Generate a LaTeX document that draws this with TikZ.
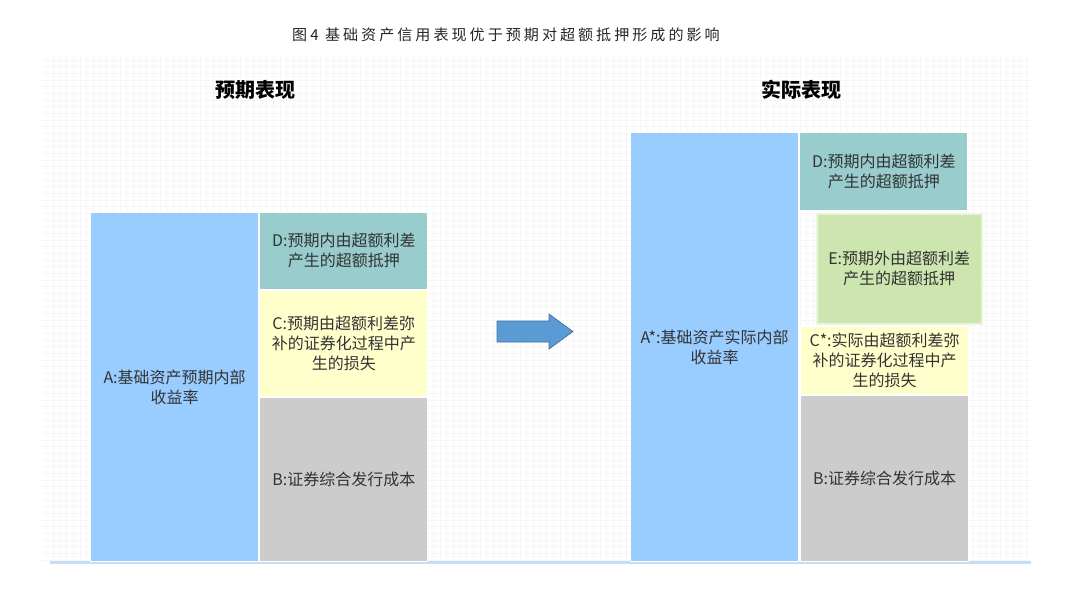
\documentclass[tikz,border=0pt]{standalone}
\usepackage{fontspec}
\setmainfont{Noto Sans CJK SC}
\usepackage{xcolor}
\usetikzlibrary{positioning}
\definecolor{boxblue}{RGB}{153,204,255}
\definecolor{boxteal}{RGB}{153,204,204}
\definecolor{boxyellow}{RGB}{255,255,204}
\definecolor{boxgray}{RGB}{204,204,204}
\definecolor{boxgreen}{RGB}{205,230,176}
\definecolor{greenedge}{RGB}{232,245,218}
\definecolor{arrowblue}{RGB}{91,155,213}
\definecolor{arrowedge}{RGB}{65,113,156}
\definecolor{floorblue}{RGB}{197,221,245}
\tikzset{
  panelbox/.style={draw=white, line width=0.9pt, align=center, anchor=north west,
                   font=\fontsize{12}{15}\selectfont, text=black!80, inner sep=2pt},
  returnbox/.style={panelbox, fill=boxblue, minimum width=126pt},
  spreadbox/.style={panelbox, fill=boxteal, minimum width=126pt},
  lossbox/.style={panelbox, fill=boxyellow, minimum width=126pt},
  costbox/.style={panelbox, fill=boxgray, minimum width=126pt},
  extrabox/.style={panelbox, fill=boxgreen, draw=greenedge, line width=1.6pt, minimum width=124pt},
  heading/.style={font=\fontsize{15}{18}\selectfont\bfseries, text=black},
  titletext/.style={font=\fontsize{11.3}{13}\selectfont\addfontfeature{LetterSpace=20}, text=black!85}
}

\begin{document}
\begin{tikzpicture}[
  x=0.75pt, y=-0.75pt,
  gridline/.style={draw=black!3.5, line width=0.4pt},
  blockarrow/.style={fill=arrowblue, draw=arrowedge, line width=0.5pt},
  groundline/.style={draw=floorblue, line width=1.6pt},
]
\useasboundingbox (0,0) rectangle (1080,608);

% Background
\draw[gridline, step=5pt] (42,55) grid (1030,560);
\draw[groundline] (50,562.5) -- (1031,562.5);

% Title and headings
\node[titletext] (title) at (506,35) {图4 基础资产信用表现优于预期对超额抵押形成的影响};
\node[heading] (headL) at (255,90) {预期表现};
\node[heading] (headR) at (801,90) {实际表现};

% Expected performance
\node[returnbox, minimum height=261.75pt] (retL) at (90,212) {A:基础资产预期内部\\收益率};
\node[spreadbox, minimum height=57.5pt] (spreadL) at (retL.north east) {D:预期内由超额利差\\产生的超额抵押};
\node[lossbox, minimum height=79.5pt] (lossL) at (spreadL.south west) {C:预期由超额利差弥\\补的证券化过程中产\\生的损失};
\node[costbox, minimum height=122.75pt] (costL) at (lossL.south west) {B:证券综合发行成本};

% Arrow
\filldraw[blockarrow] (497,321) -- (549,321) -- (549,314) -- (573,331.5)
  -- (549,349) -- (549,342) -- (497,342) -- cycle;

% Actual performance
\node[returnbox, minimum height=321.75pt] (retR) at (630,132) {A*:基础资产实际内部\\收益率};
\node[spreadbox, minimum height=58.5pt] (spreadR) at (retR.north east) {D:预期内由超额利差\\产生的超额抵押};
\node[extrabox, minimum height=83pt] (extraR) at (815.5,212.5) {E:预期外由超额利差\\产生的超额抵押};
\node[lossbox, minimum height=51pt] (lossR) at (800,325.5) {C*:实际由超额利差弥\\补的证券化过程中产\\生的损失};
\node[costbox, minimum height=124.5pt] (costR) at (lossR.south west) {B:证券综合发行成本};

\end{tikzpicture}
\end{document}
